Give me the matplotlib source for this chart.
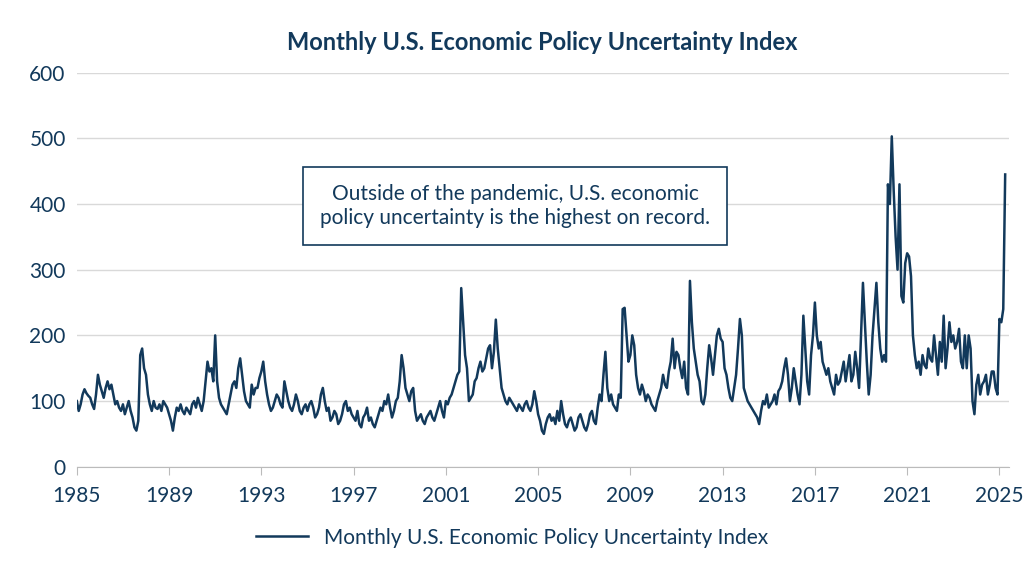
import numpy as np
import matplotlib
matplotlib.use("Agg")
import matplotlib.pyplot as plt

plt.rcParams["font.family"] = "Lato"
NAVY = "#12395b"

start_year = 1985
vals = [
100,85,95,110,118,112,108,105,95,88,110,140,
125,115,105,120,130,118,125,110,95,100,90,85,
95,80,90,100,85,75,60,55,70,170,180,150,
140,110,95,85,100,90,88,95,85,100,95,90,
80,70,55,75,90,85,95,85,80,90,85,80,
95,100,90,105,95,85,100,130,160,145,150,130,
200,130,105,95,90,85,80,95,110,125,130,120,
150,165,140,115,100,95,90,125,110,120,120,135,
145,160,130,110,95,85,90,100,110,105,95,90,
130,115,100,90,85,95,110,100,85,80,90,95,
85,95,100,90,75,80,90,110,120,100,85,90,
70,75,85,80,65,70,80,95,100,85,90,80,
75,70,85,65,60,75,80,90,70,75,65,60,
70,80,90,85,100,95,110,90,75,85,100,105,
130,170,150,120,110,100,115,120,85,70,75,80,
70,65,75,80,85,75,70,80,90,100,85,75,
100,95,105,110,120,130,140,145,272,220,170,150,
100,105,110,130,135,150,160,145,150,165,180,185,
150,175,224,180,150,120,110,100,95,105,100,95,
90,85,95,90,85,95,100,90,85,95,115,100,
80,70,55,50,65,75,80,70,75,65,85,70,
100,80,65,60,70,75,65,55,60,75,80,70,
60,55,65,80,85,70,65,90,110,100,140,175,
120,100,110,95,90,85,110,105,240,242,200,160,
170,200,185,140,120,110,125,115,100,110,105,95,
90,85,100,110,120,140,125,120,145,160,195,150,
175,170,150,135,160,120,110,283,220,180,160,140,
130,100,95,110,150,185,165,140,170,200,210,195,
190,150,140,120,105,100,120,140,180,225,200,120,
110,100,95,90,85,80,75,65,85,100,95,110,
90,95,100,110,95,115,120,130,150,165,140,100,
120,150,130,110,95,140,230,180,130,110,170,200,
250,200,180,190,160,150,140,150,130,120,110,140,
125,130,145,160,130,150,170,130,140,175,150,120,
200,280,220,160,110,140,200,240,280,220,180,160,
170,160,430,400,503,420,350,300,430,260,250,310,
325,320,290,200,170,150,160,140,170,155,150,180,
165,160,200,170,140,190,160,230,150,180,220,190,
200,180,190,210,160,150,200,150,200,180,100,80,
125,140,110,125,130,140,110,125,145,145,120,110,
225,220,240,445,
]
dates = start_year + np.arange(len(vals)) / 12.0
xticks = [1985, 1989, 1993, 1997, 2001, 2005, 2009, 2013, 2017, 2021, 2025]
yticks = [0, 100, 200, 300, 400, 500, 600]

fig, ax = plt.subplots(figsize=(10.24, 5.72), dpi=100)
fig.subplots_adjust(left=0.075, right=0.985, top=0.873, bottom=0.184)
ax.plot(dates, vals, color=NAVY, lw=1.8, label="Monthly U.S. Economic Policy Uncertainty Index")
ax.set_xlim(1985, 2025.4)
ax.set_ylim(0, 600)
ax.set_xticks(xticks)
ax.set_yticks(yticks)
ax.tick_params(labelsize=15, colors=NAVY, length=0, pad=8)
ax.tick_params(axis="x", length=6, color="#bbbbbb", direction="out")
ax.grid(axis="y", color="#d9d9d9", lw=1)
for s in ["top", "right", "left"]:
    ax.spines[s].set_visible(False)
ax.spines["bottom"].set_color("#bbbbbb")
ax.set_title("Monthly U.S. Economic Policy Uncertainty Index", fontsize=17, fontweight="bold", color=NAVY, pad=16)
ax.text(2004.0, 397, "Outside of the pandemic, U.S. economic\npolicy uncertainty is the highest on record.",
        ha="center", va="center", fontsize=15, color=NAVY, linespacing=1.3,
        bbox=dict(boxstyle="square,pad=0.8", fc="white", ec=NAVY, lw=1.2))
fig.legend(loc="lower center", bbox_to_anchor=(0.5, 0.01), frameon=False, fontsize=15,
           labelcolor=NAVY, handlelength=2.5)
fig.savefig("out.png", dpi=100)
